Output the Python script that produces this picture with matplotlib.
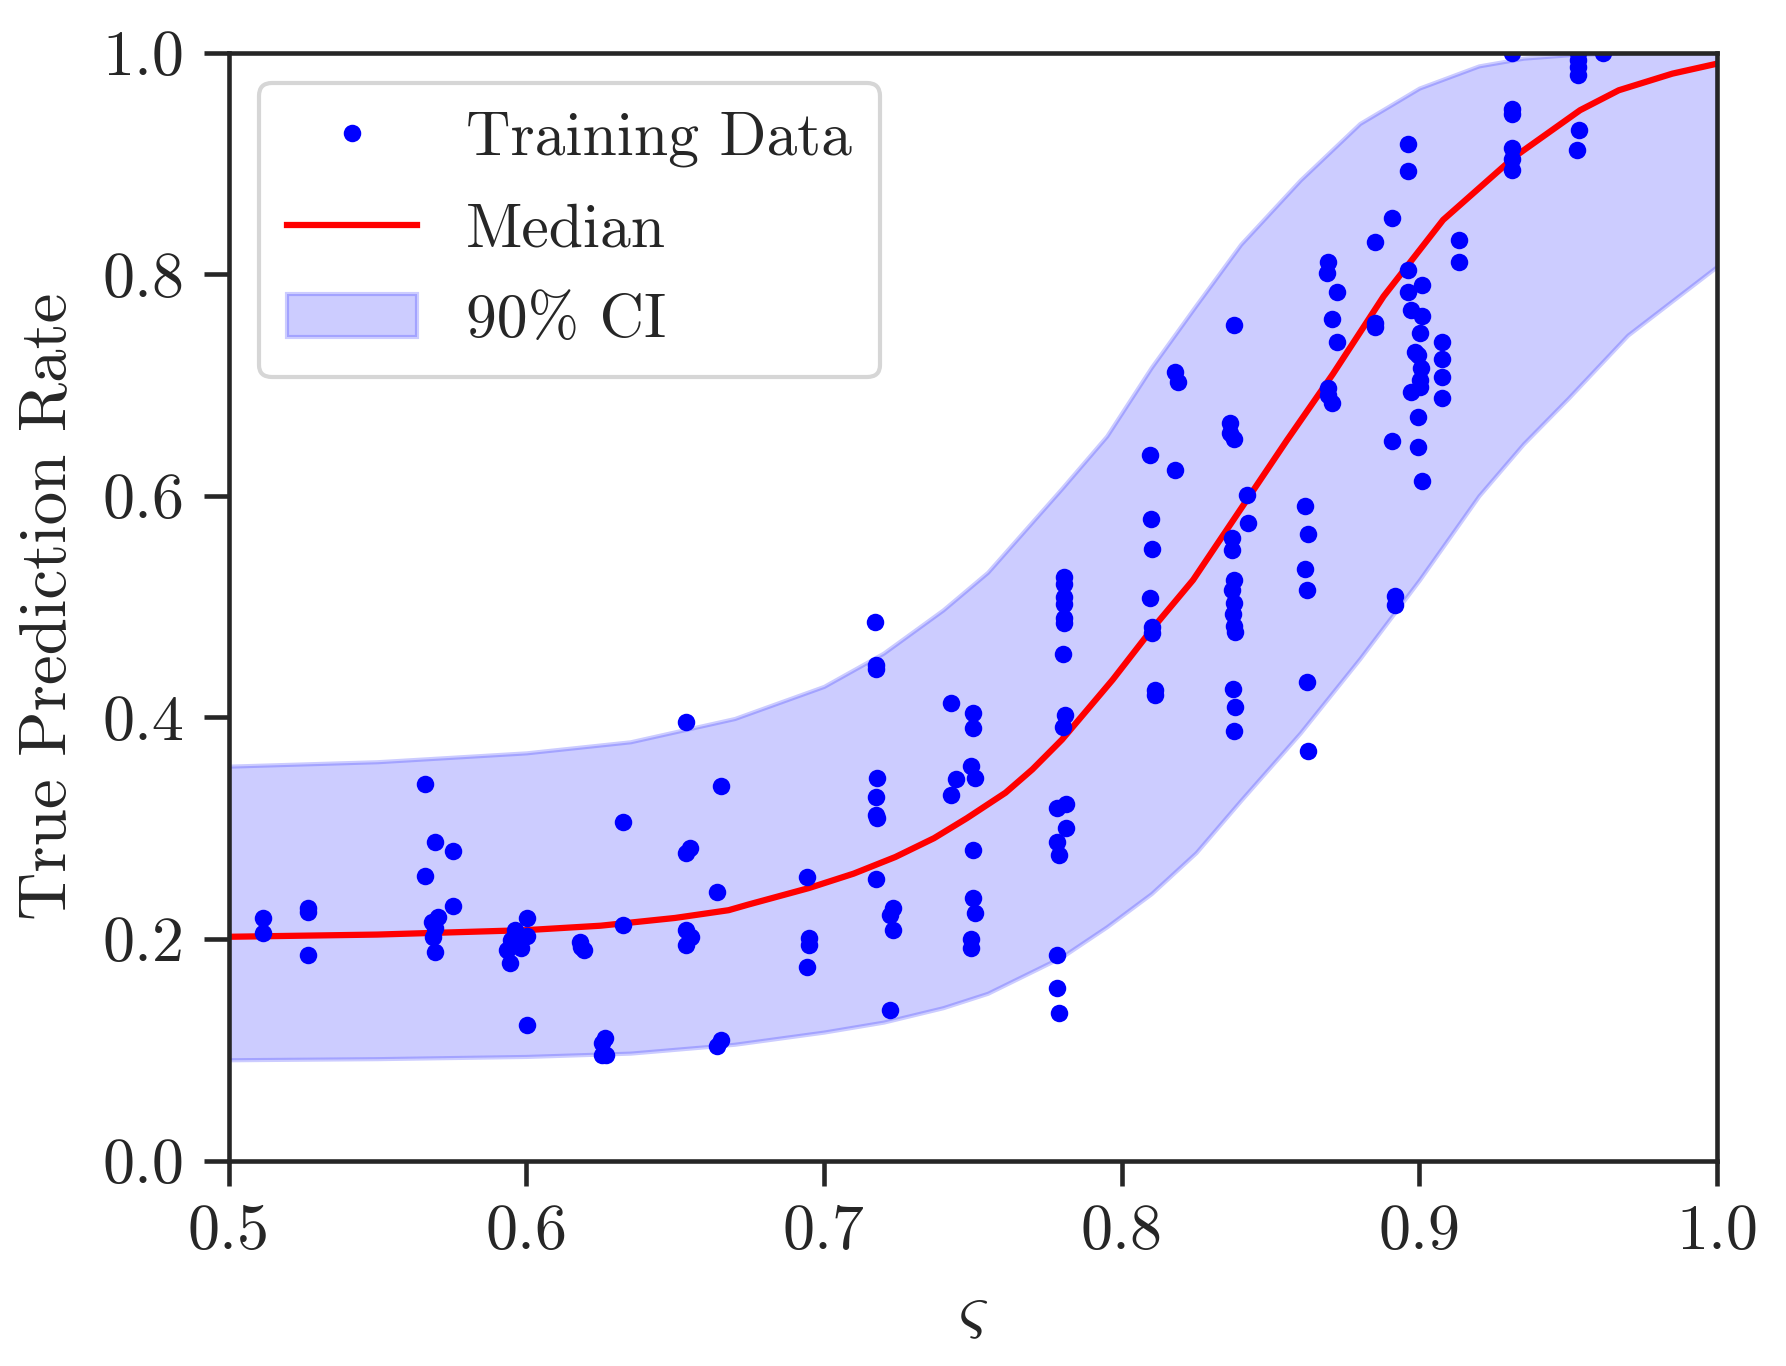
import matplotlib
matplotlib.use("Agg")
import matplotlib.pyplot as plt

# ---------------- data ----------------
train_x = [0.5116, 0.5116, 0.5268, 0.5268, 0.5268, 0.5661, 0.5661, 0.5693, 0.5755, 0.5755,
           0.5703, 0.5683, 0.5693, 0.5688, 0.5693,
           0.6004, 0.5961, 0.6003, 0.5950, 0.5937, 0.5981, 0.5945, 0.6004,
           0.6180, 0.6185, 0.6195, 0.6325, 0.6325, 0.6264, 0.6253, 0.6255, 0.6268,
           0.6538, 0.6549, 0.6538, 0.6538, 0.6555, 0.6538, 0.6655, 0.6641, 0.6655, 0.6641,
           0.6944, 0.6950, 0.6950, 0.6944,
           0.7171, 0.7174, 0.7174, 0.7178, 0.7174, 0.7174, 0.7180, 0.7174,
           0.7232, 0.7223, 0.7232, 0.7223,
           0.7428, 0.7502, 0.7502, 0.7495, 0.7509, 0.7443, 0.7428, 0.7502, 0.7502, 0.7509, 0.7495, 0.7495,
           0.7807, 0.7807, 0.7807, 0.7807, 0.7807, 0.7807, 0.7803, 0.7811, 0.7803,
           0.7784, 0.7812, 0.7812, 0.7784, 0.7790, 0.7784, 0.7784, 0.7790,
           0.8097, 0.8099, 0.8103, 0.8097, 0.8101, 0.8101, 0.8113, 0.8113,
           0.8180, 0.8190, 0.8180,
           0.8378, 0.8365, 0.8365, 0.8378, 0.8420, 0.8423, 0.8372, 0.8372,
           0.8376, 0.8370, 0.8376, 0.8374, 0.8376, 0.8380, 0.8374, 0.8380, 0.8376,
           0.8617, 0.8627, 0.8617, 0.8624, 0.8624, 0.8627,
           0.8694, 0.8689, 0.8725, 0.8708, 0.8725, 0.8694, 0.8694, 0.8708,
           0.8852, 0.8852, 0.8852, 0.8909, 0.8909, 0.8917, 0.8917,
           0.8963, 0.8963, 0.8963, 0.9010, 0.8963, 0.8972, 0.9010, 0.9001, 0.8985, 0.8995,
           0.9006, 0.9004, 0.9001, 0.8972, 0.8997, 0.8997, 0.9010,
           0.9077, 0.9077, 0.9077, 0.9077, 0.9134, 0.9134,
           0.9311, 0.9311, 0.9311, 0.9312, 0.9312, 0.9311,
           0.9534, 0.9534, 0.9534, 0.9534, 0.9538, 0.9529, 0.9618]
train_y = [0.2187, 0.2051, 0.2280, 0.2240, 0.1856, 0.3396, 0.2569, 0.2878, 0.2794, 0.2298,
           0.2201, 0.2156, 0.2096, 0.2021, 0.1886,
           0.2187, 0.2081, 0.2027, 0.1990, 0.1900, 0.1916, 0.1780, 0.1224,
           0.1976, 0.1930, 0.1900, 0.3053, 0.2126, 0.1104, 0.1058, 0.0950, 0.0950,
           0.3961, 0.2818, 0.2779, 0.2081, 0.2021, 0.1946, 0.3384, 0.2427, 0.1088, 0.1034,
           0.2563, 0.2006, 0.1946, 0.1750,
           0.4858, 0.4473, 0.4434, 0.3456, 0.3285, 0.3120, 0.3095, 0.2538,
           0.2277, 0.2217, 0.2081, 0.1359,
           0.4133, 0.4037, 0.3902, 0.3564, 0.3456, 0.3441, 0.3300, 0.2803, 0.2367, 0.2237, 0.1997, 0.1916,
           0.5269, 0.5208, 0.5087, 0.5027, 0.4894, 0.4854, 0.4572, 0.4022, 0.3916,
           0.3180, 0.3216, 0.2999, 0.2878, 0.2758, 0.1856, 0.1555, 0.1329,
           0.6368, 0.5790, 0.5517, 0.5075, 0.4819, 0.4759, 0.4247, 0.4202,
           0.7120, 0.7030, 0.6233,
           0.7542, 0.6655, 0.6567, 0.6514, 0.6007, 0.5757, 0.5616, 0.5511,
           0.5240, 0.5150, 0.5035, 0.4930, 0.4828, 0.4774, 0.4256, 0.4097, 0.3880,
           0.5911, 0.5655, 0.5337, 0.5150, 0.4317, 0.3700,
           0.8113, 0.8008, 0.7837, 0.7593, 0.7391, 0.6970, 0.6910, 0.6835,
           0.8293, 0.7560, 0.7520, 0.8505, 0.6495, 0.5100, 0.5014,
           0.9175, 0.8934, 0.8038, 0.7902, 0.7837, 0.7677, 0.7625, 0.7467, 0.7300, 0.7270,
           0.7151, 0.7045, 0.6985, 0.6940, 0.6708, 0.6444, 0.6137,
           0.7391, 0.7232, 0.7075, 0.6880, 0.8309, 0.8113,
           1.0000, 0.9487, 0.9447, 0.9140, 0.9044, 0.8944,
           1.0000, 0.9930, 0.9870, 0.9800, 0.9297, 0.9120, 1.0000]

median_x = [0.50, 0.55, 0.60, 0.625, 0.65, 0.668, 0.6745, 0.695, 0.71, 0.724, 0.737,
            0.748, 0.761, 0.770, 0.780, 0.797, 0.810, 0.824, 0.8375, 0.8465, 0.8555,
            0.871, 0.888, 0.908, 0.932, 0.954, 0.967, 0.985, 1.0]
median_y = [0.202, 0.204, 0.208, 0.212, 0.219, 0.226, 0.231, 0.246, 0.259, 0.274, 0.291,
            0.309, 0.332, 0.353, 0.380, 0.434, 0.479, 0.524, 0.578, 0.614, 0.650,
            0.710, 0.780, 0.849, 0.906, 0.948, 0.966, 0.981, 0.990]

band_x = [0.50, 0.55, 0.60, 0.635, 0.67, 0.70, 0.72, 0.74, 0.755, 0.78, 0.795, 0.81,
          0.825, 0.84, 0.86, 0.88, 0.90, 0.92, 0.935, 0.95, 0.97, 1.0]
band_upper = [0.356, 0.360, 0.368, 0.378, 0.399, 0.428, 0.458, 0.497, 0.531, 0.607, 0.654,
              0.716, 0.772, 0.827, 0.885, 0.936, 0.968, 0.988, 0.995, 0.998, 1.0, 1.0]
band_lower = [0.091, 0.092, 0.094, 0.097, 0.105, 0.116, 0.125, 0.138, 0.151, 0.184, 0.211,
              0.241, 0.278, 0.325, 0.386, 0.453, 0.524, 0.600, 0.647, 0.688, 0.745, 0.807]

xticks = [0.5, 0.6, 0.7, 0.8, 0.9, 1.0]
yticks = [0.0, 0.2, 0.4, 0.6, 0.8, 1.0]

# ---------------- style ----------------
plt.rcParams['font.family'] = ['cmr10', 'DejaVu Sans']
plt.rcParams['mathtext.fontset'] = 'cm'
plt.rcParams['axes.formatter.use_mathtext'] = True
plt.rcParams['axes.unicode_minus'] = False
dark = '#262626'

fig = plt.figure(figsize=(1786 / 300, 1366 / 300), dpi=300)
ax = fig.add_axes([228.5 / 1786, (1366 - 1160.6) / 1366, 1488.5 / 1786, 1108 / 1366])

ax.fill_between(band_x, band_lower, band_upper, color='blue', alpha=0.2,
                linewidth=1.0, label='90% CI')
ax.plot(median_x, median_y, color='red', linewidth=1.5, label='Median')
ax.plot(train_x, train_y, linestyle='none', marker='o', markersize=4.2,
        color='blue', markeredgewidth=0, label='Training Data')

ax.set_xlim(0.5, 1.0)
ax.set_ylim(0.0, 1.0)
ax.set_xticks(xticks)
ax.set_yticks(yticks)
ax.set_xticklabels([f"{t:.1f}" for t in xticks])
ax.set_yticklabels([f"{t:.1f}" for t in yticks])

for s in ax.spines.values():
    s.set_color(dark)
    s.set_linewidth(1.1)
ax.tick_params(axis='both', which='major', direction='out', length=6, width=1.1,
               color=dark, labelcolor=dark, labelsize=15.4, pad=4.5)

ax.set_xlabel(r'$\varsigma$', fontsize=16.5, color=dark, labelpad=5)
ax.set_ylabel('True Prediction Rate', fontsize=16.1, color=dark, labelpad=6)

handles, labels = ax.get_legend_handles_labels()
order = [2, 1, 0]
leg = ax.legend([handles[i] for i in order], [labels[i] for i in order],
                loc='upper left', fontsize=14.8, frameon=True, fancybox=True,
                framealpha=0.8, edgecolor='0.8', borderaxespad=0.5,
                handlelength=2.1, labelspacing=0.58, borderpad=0.45)
for t in leg.get_texts():
    t.set_color(dark)

fig.savefig('out.png', dpi=300)
